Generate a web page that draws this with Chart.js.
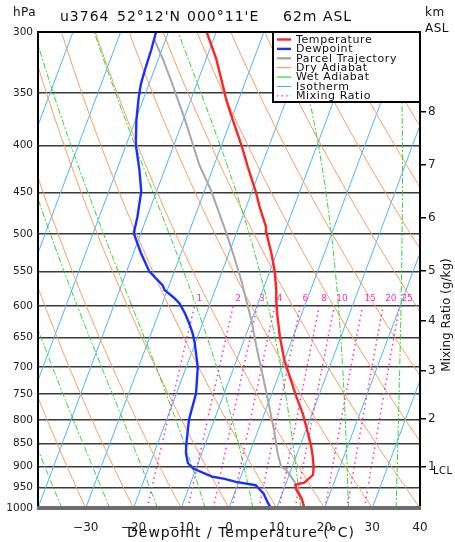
<!DOCTYPE html>
<html>
<head>
<meta charset="utf-8">
<script src="https://cdn.jsdelivr.net/npm/chart.js@4.4.1/dist/chart.umd.min.js"></script>
<style>
    html, body { margin: 0; padding: 0; background: #fff; }
    #skewt { display: block; }
</style>
</head>
<body>
<canvas id="skewt" width="455" height="542"></canvas>
<script>
"use strict";

/**
 * Sounding data (pressure hPa / temperature C)
 */
const tempPres = [1000, 977, 954, 943, 938, 920, 901, 878, 856, 814, 787, 755, 717, 688, 648, 611, 591, 576, 548, 525, 499, 491, 467, 450, 422, 399, 375, 356, 349, 321, 300];
const tempVals = [15.8, 14.5, 12.6, 12.1, 13.8, 15.0, 14.5, 13.5, 12.4, 9.8, 8.0, 5.4, 2.4, 0.0, -2.8, -5.2, -6.4, -7.2, -9.1, -11.1, -13.7, -14.3, -17.2, -19.1, -22.8, -25.9, -29.6, -32.6, -33.6, -37.9, -42.0];

const dewPres = [1000, 988, 964, 944, 936, 929, 924, 905, 893, 871, 849, 800, 748, 700, 659, 643, 627, 611, 596, 588, 576, 569, 550, 525, 499, 479, 449, 426, 399, 375, 354, 342, 328, 314, 300];
const dewVals = [8.8, 7.8, 6.1, 3.8, -0.6, -3.2, -5.9, -10.6, -12.1, -13.3, -14.0, -15.3, -15.9, -17.6, -20.1, -21.3, -22.8, -24.5, -26.4, -27.9, -30.6, -31.4, -35.2, -38.4, -41.5, -42.0, -43.2, -45.2, -48.0, -49.8, -51.1, -51.7, -52.0, -52.2, -52.6];

const parcelPres = [1000, 972, 936, 908, 901, 871, 828, 774, 717, 665, 621, 591, 562, 530, 499, 475, 449, 420, 393, 373, 355, 340, 321, 306];
const parcelVals = [15.8, 14.2, 11.7, 9.0, 7.7, 5.9, 3.7, 0.5, -3.2, -6.9, -10.1, -12.7, -15.3, -18.6, -22.1, -25.1, -28.5, -33.1, -36.9, -39.9, -42.9, -45.5, -49.1, -52.3];

/**
 * Axes
 */
const pressureTicks = [300, 350, 400, 450, 500, 550, 600, 650, 700, 750, 800, 850, 900, 950, 1000];
const tempTicks = [-40, -30, -20, -10, 0, 10, 20, 30, 40];
const kmLabels = ["1", "2", "3", "4", "5", "6", "7", "8"];
const kmPres = [901.5, 798, 707, 623, 549, 480, 420, 367];

/**
 * Background lines of the diagram
 */
const isotherms = [-110, -100, -90, -80, -70, -60, -50, -40, -30, -20, -10, 0, 10, 20, 30, 40];
const dryThetas = [-40, -30, -20, -10, 0, 10, 20, 30, 40, 50, 60, 70, 80, 90, 100, 110, 120, 130, 140, 150];
const wetStarts = [-35, -25, -15, -5, 5, 15, 25, 35];
const mixRatios = [1, 2, 3, 4, 6, 8, 10, 15, 20, 25];

const legendLabels = ["Temperature", "Dewpoint", "Parcel Trajectory", "Dry Adiabat", "Wet Adiabat", "Isotherm", "Mixing Ratio"];

const SKEW = 31;
const FONT = "'DejaVu Sans', sans-serif";

const colTemp = "#ff2424";
const colDew = "#1a30ff";
const colParcel = "#a8a8a8";
const colDry = "#f5a062";
const colWet = "#30d830";
const colIso = "#4cb6ff";
const colMix = "#ff30b8";

document.addEventListener("DOMContentLoaded", () => {
    const canvas = document.querySelector("#skewt");

    const skewX = (t, p) => t + SKEW * Math.log(1000 / p);
    const toPoints = (pres, vals) => pres.map((p, i) => ({ x: skewX(vals[i], p), y: p }));

    const curvePres = [];
    for (let p = 1000; p >= 300; p -= 10) curvePres.push(p);

    function dewFromMix(w, p) {
        const e = (w * p) / (622 + w);
        const l = Math.log(e / 6.112);
        return (243.5 * l) / (17.67 - l);
    }

    function moistLapse(tK, p) {
        const tc = tK - 273.15;
        const es = 6.112 * Math.exp((17.67 * tc) / (tc + 243.5));
        const rs = (0.622 * es) / (p - es);
        const num = (287.04 * tK + 2.501e6 * rs) / p;
        const den = 1005.7 + (2.501e6 * 2.501e6 * rs * 0.622) / (287.04 * tK * tK);
        return num / den;
    }

    function moistCurve(t0) {
        let tK = t0 + 273.15;
        let p = 1000;
        const pts = [{ x: skewX(t0, 1000), y: 1000 }];
        while (p > 300) {
            for (let k = 0; k < 5; k++) {
                const dp = -2;
                const k1 = moistLapse(tK, p);
                const k2 = moistLapse(tK + (k1 * dp) / 2, p + dp / 2);
                tK += k2 * dp;
                p += dp;
            }
            pts.push({ x: skewX(tK - 273.15, p), y: p });
        }
        return pts;
    }

    function lineSet(data, color, width, dash, order) {
        return {
            data: data,
            borderColor: color,
            borderWidth: width,
            borderDash: dash,
            pointRadius: 0,
            showLine: true,
            fill: false,
            tension: 0,
            order: order,
        };
    }

    const datasets = [];

    /**
     * Profiles on top
     */
    datasets.push(lineSet(toPoints(tempPres, tempVals), colTemp, 2.4, [], 0));
    datasets.push(lineSet(toPoints(dewPres, dewVals), colDew, 2.4, [], 1));
    datasets.push(lineSet(toPoints(parcelPres, parcelVals), colParcel, 2, [], 2));

    mixRatios.forEach((w) => {
        const pts = curvePres.filter((p) => p >= 600).map((p) => ({ x: skewX(dewFromMix(w, p), p), y: p }));
        datasets.push(lineSet(pts, colMix, 1.5, [1.5, 3.5], 10));
    });

    wetStarts.forEach((t) => {
        datasets.push(lineSet(moistCurve(t), colWet, 1, [6, 2, 2, 2], 11));
    });

    dryThetas.forEach((th) => {
        const pts = curvePres.map((p) => ({
            x: skewX((th + 273.15) * Math.pow(p / 1000, 0.2857) - 273.15, p),
            y: p,
        }));
        datasets.push(lineSet(pts, colDry, 1, [], 12));
    });

    isotherms.forEach((t) => {
        datasets.push(lineSet([{ x: skewX(t, 1000), y: 1000 }, { x: skewX(t, 300), y: 300 }], colIso, 1, [], 13));
    });

    /**
     * Frame, legend and texts
     */
    const skewDecor = {
        id: "skewDecor",
        afterDraw(chart) {
            const ctx = chart.ctx;
            const area = chart.chartArea;
            const xs = chart.scales.x;
            const ys = chart.scales.y;

            ctx.save();

            // frame
            ctx.strokeStyle = "#000";
            ctx.lineWidth = 2;
            ctx.beginPath();
            ctx.moveTo(area.left, area.bottom);
            ctx.lineTo(area.left, area.top);
            ctx.lineTo(area.right, area.top);
            ctx.lineTo(area.right, area.bottom);
            ctx.stroke();
            ctx.fillStyle = "#6c6c6c";
            ctx.fillRect(area.left - 1, area.bottom - 2, area.right - area.left + 2, 4);

            // mixing ratio labels
            ctx.fillStyle = colMix;
            ctx.font = "9px " + FONT;
            ctx.textAlign = "left";
            ctx.textBaseline = "middle";
            const yTop = ys.getPixelForValue(600);
            mixRatios.forEach((w) => {
                const px = xs.getPixelForValue(skewX(dewFromMix(w, 600), 600));
                ctx.fillText(String(w), px + 2, yTop - 7);
            });

            // legend
            const lx = 273;
            const ly = area.top;
            ctx.fillStyle = "#fff";
            ctx.fillRect(lx, ly, area.right - lx, 70);
            ctx.strokeStyle = "#000";
            ctx.lineWidth = 2;
            ctx.strokeRect(lx, ly, area.right - lx, 70);

            const legendColors = [colTemp, colDew, colParcel, colDry, colWet, colIso, colMix];
            ctx.font = "11px " + FONT;
            ctx.letterSpacing = "0.6px";
            legendLabels.forEach((label, i) => {
                const y = ly + 7.5 + i * 9.4;
                ctx.strokeStyle = legendColors[i];
                ctx.lineWidth = i < 3 ? 2.4 : 1.2;
                ctx.setLineDash(i === 6 ? [1.5, 3] : []);
                ctx.beginPath();
                ctx.moveTo(277, y);
                ctx.lineTo(291, y);
                ctx.stroke();
                ctx.setLineDash([]);
                ctx.fillStyle = "#111";
                ctx.fillText(label, 296, y + 0.5);
            });

            // titles
            ctx.fillStyle = "#111";
            ctx.textBaseline = "alphabetic";
            ctx.font = "14px " + FONT;
            ctx.letterSpacing = "1px";
            ctx.fillText("u3764", 60, 21);
            ctx.fillText("52°12'N", 117, 21);
            ctx.fillText("000°11'E", 187, 21);
            ctx.fillText("62m ASL", 283, 21);

            ctx.textAlign = "center";
            ctx.fillText("Dewpoint / Temperature (°C)", 241, 537);

            ctx.font = "12px " + FONT;
            ctx.letterSpacing = "0.5px";
            ctx.textAlign = "left";
            ctx.fillText("hPa", 13, 16);
            ctx.fillText("km", 425, 16);
            ctx.fillText("ASL", 425, 32);

            ctx.font = "10px " + FONT;
            ctx.fillText("LCL", 433, 474);

            ctx.translate(447, 315);
            ctx.rotate(-Math.PI / 2);
            ctx.textAlign = "center";
            ctx.textBaseline = "middle";
            ctx.font = "12px " + FONT;
            ctx.letterSpacing = "0px";
            ctx.fillText("Mixing Ratio (g/kg)", 0, 0);

            ctx.restore();
        },
    };

    new Chart(canvas, {
        type: "scatter",
        data: { datasets: datasets },
        options: {
            responsive: false,
            animation: false,
            events: [],
            layout: { padding: { top: 32, left: 0, right: 0, bottom: 0 } },
            plugins: {
                legend: { display: false },
                tooltip: { enabled: false },
            },
            scales: {
                x: {
                    type: "linear",
                    position: "bottom",
                    min: -40,
                    max: 40,
                    afterBuildTicks: (s) => {
                        s.ticks = tempTicks.map((v) => ({ value: v }));
                    },
                    afterFit: (s) => {
                        s.height = 34;
                    },
                    ticks: {
                        autoSkip: false,
                        maxRotation: 0,
                        padding: 5,
                        color: "#222",
                        font: { family: FONT, size: 12 },
                        callback: (v) => (v === -40 ? "" : String(v).replace("-", "\u2212")),
                    },
                    grid: { display: false },
                    border: { display: false },
                },
                y: {
                    type: "logarithmic",
                    position: "left",
                    min: 300,
                    max: 1000,
                    reverse: true,
                    afterBuildTicks: (s) => {
                        s.ticks = pressureTicks.map((v) => ({ value: v }));
                    },
                    afterFit: (s) => {
                        s.width = 38;
                    },
                    ticks: {
                        autoSkip: false,
                        padding: 5,
                        color: "#222",
                        font: { family: FONT, size: 10.5 },
                        callback: (v) => String(v),
                    },
                    grid: { color: "#3a3a3a", lineWidth: 1.6, drawTicks: false },
                    border: { display: false },
                },
                km: {
                    type: "logarithmic",
                    position: "right",
                    min: 300,
                    max: 1000,
                    reverse: true,
                    afterBuildTicks: (s) => {
                        s.ticks = kmPres.map((v) => ({ value: v }));
                    },
                    afterFit: (s) => {
                        s.width = 35;
                    },
                    ticks: {
                        autoSkip: false,
                        padding: 2,
                        color: "#222",
                        font: { family: FONT, size: 12 },
                        callback: (v, i) => kmLabels[i],
                    },
                    grid: { drawOnChartArea: false, drawTicks: true, tickLength: 6, color: "#000", lineWidth: 1.5 },
                    border: { display: false },
                },
            },
        },
        plugins: [skewDecor],
    });
});
</script>
</body>
</html>
